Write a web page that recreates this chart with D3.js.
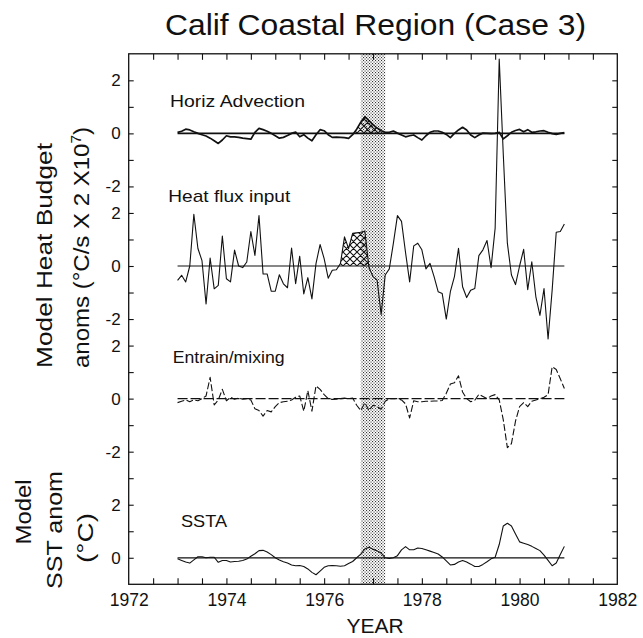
<!DOCTYPE html>
<html>
<head>
<meta charset="utf-8">
<script src="https://cdn.jsdelivr.net/npm/d3@7"></script>
<style>
  body { margin: 0; background: #fff; }
  text { font-family: "Liberation Sans", Arial, Helvetica, sans-serif; fill: #111; }
</style>
</head>
<body>
<svg id="chart" width="643" height="638"></svg>
<script>
// Monthly model anomalies, January 1973 through December 1980
const startYear = 1973;
const horizAdvection = [
  0.04, 0.08, 0.16, 0.13, 0.06, 0.00, -0.05, -0.10, -0.18, -0.28, -0.38, -0.25,
  -0.09, -0.13, -0.13, -0.15, -0.18, -0.20, -0.22, 0.04, 0.19, 0.14, 0.08, 0.00,
  -0.09, -0.18, -0.15, -0.08, 0.00, 0.05, -0.13, -0.05, -0.18, -0.28, -0.05, 0.14,
  0.10, -0.05, -0.15, -0.14, -0.15, -0.16, -0.19, -0.05, 0.16, 0.42, 0.63, 0.48,
  0.33, 0.20, 0.10, 0.04, 0.04, 0.09, 0.01, -0.06, -0.13, -0.09, -0.06, -0.16,
  -0.25, -0.09, 0.04, 0.09, 0.09, 0.04, -0.04, -0.16, 0.00, 0.13, 0.23, 0.13,
  -0.06, -0.16, -0.06, 0.01, 0.00, -0.01, 0.00, 0.04, -0.21, -0.09, 0.04, 0.11,
  0.15, 0.06, 0.14, 0.04, 0.06, 0.09, 0.10, 0.04, -0.01, -0.04, 0.00, 0.03
];
const heatFluxInput = [
  -0.54, -0.35, -0.60, 0.00, 1.95, 0.66, 0.20, -1.43, 0.30, -0.86, -0.73, 1.13,
  -0.48, -0.60, 0.60, 0.00, -0.06, 0.15, 1.30, 0.40, 1.90, -0.30, -0.30, -0.95,
  -0.95, -0.33, -0.67, -0.82, 0.68, -0.67, 0.37, -1.05, -0.44, -1.24, 0.09, 0.81,
  0.28, -0.46, -0.16, -0.14, 0.09, 1.10, 0.66, 1.23, 1.25, 1.27, 1.32, -0.05,
  -0.40, -0.53, -1.83, -0.34, -0.11, 0.85, 1.90, 1.68, 0.50, -0.60, 0.76, 0.86,
  0.61, -0.11, 0.10, -0.40, -0.97, -1.04, -2.00, -0.97, -0.40, 0.67, -0.78, -1.19,
  -0.91, -0.85, 0.39, 0.61, 0.96, -0.06, 1.43, 7.80, 4.20, 0.86, -0.34, -0.70,
  0.00, 0.63, -0.89, 0.16, -1.16, -1.86, -0.85, -2.75, -0.91, 1.27, 1.30, 1.58
];
const entrainMixing = [
  -0.15, -0.10, -0.05, -0.12, -0.05, -0.08, 0.00, 0.10, 0.80, -0.24, -0.05, 0.35,
  -0.08, 0.05, -0.02, 0.02, -0.02, 0.00, -0.05, -0.38, -0.45, -0.66, -0.45, -0.50,
  -0.30, -0.15, -0.12, -0.10, -0.05, 0.05, 0.10, -0.47, 0.30, -0.47, 0.48, 0.35,
  0.15, 0.00, -0.03, -0.02, 0.00, 0.02, 0.00, 0.02, -0.25, -0.45, -0.15, -0.45,
  -0.25, -0.30, -0.40, -0.10, 0.00, 0.00, 0.00, -0.05, -0.20, -0.73, -0.08, -0.12,
  -0.12, -0.10, -0.10, -0.09, -0.09, -0.07, 0.20, 0.55, 0.60, 0.86, 0.25, 0.00,
  -0.12, -0.06, 0.16, 0.08, 0.00, 0.10, 0.15, -0.05, -0.80, -1.85, -1.70, -0.85,
  -0.30, -0.15, -0.30, -0.10, -0.05, 0.00, 0.05, 0.15, 1.20, 1.10, 0.75, 0.38
];
const ssta = [
  -0.04, -0.10, -0.16, -0.20, -0.08, 0.04, 0.04, 0.00, 0.02, 0.02, -0.17, -0.10,
  -0.10, -0.16, -0.14, -0.13, -0.10, -0.05, 0.06, 0.15, 0.27, 0.28, 0.22, 0.12,
  0.00, -0.08, -0.15, -0.20, -0.27, -0.30, -0.29, -0.33, -0.42, -0.55, -0.64, -0.50,
  -0.36, -0.30, -0.29, -0.30, -0.32, -0.30, -0.22, -0.14, 0.00, 0.14, 0.33, 0.40,
  0.32, 0.26, 0.18, 0.00, -0.03, 0.00, 0.08, 0.30, 0.42, 0.30, 0.30, 0.37,
  0.35, 0.30, 0.25, 0.20, 0.14, 0.03, -0.12, -0.27, -0.25, -0.16, -0.10, -0.16,
  -0.24, -0.33, -0.33, -0.25, -0.15, -0.04, 0.02, 0.50, 1.20, 1.30, 1.20, 0.90,
  0.60, 0.55, 0.50, 0.43, 0.35, 0.27, 0.10, -0.10, -0.30, -0.20, 0.12, 0.43
];

const panelNames = ["Horiz Advection", "Heat flux input", "Entrain/mixing", "SSTA"];
const panelOffsets = [0, -5, -10, -16];          // stacked baseline of each panel
const yTickLabelValues = [2, 0, -2];
const xTickLabels = [1972, 1974, 1976, 1978, 1980, 1982];
const warmEventBand = [1976.75, 1977.25];          // stippled period
const hatchSpans = [[1976.58, 1977.25], [1976.33, 1976.92], null, null];

const series = [horizAdvection, heatFluxInput, entrainMixing, ssta];

const svg = d3.select("#chart");
const x = d3.scaleLinear().domain([1972, 1982]).range([128.7, 617.3]);
const y = d3.scaleLinear().domain([-17, 3]).range([584.3, 53.8]);
const [x0, x1] = x.range();
const [yBot, yTop] = y.range();

const defs = svg.append("defs");
defs.append("clipPath").attr("id", "frameClip")
  .append("rect").attr("x", x0).attr("y", yTop).attr("width", x1 - x0).attr("height", yBot - yTop);

// fine stipple for the shaded period
const stip = defs.append("pattern").attr("id", "stipple")
  .attr("patternUnits", "userSpaceOnUse").attr("width", 3).attr("height", 3);
stip.append("rect").attr("x", 0).attr("y", 0).attr("width", 1.1).attr("height", 1.1).attr("fill", "#333");
stip.append("rect").attr("x", 1.5).attr("y", 1.5).attr("width", 1.1).attr("height", 1.1).attr("fill", "#333");

// cross hatch for the highlighted anomalies
const hatch = defs.append("pattern").attr("id", "crosshatch")
  .attr("patternUnits", "userSpaceOnUse").attr("width", 7).attr("height", 7);
hatch.append("path").attr("d", "M0,0L7,7M7,0L0,7M-1,6L1,8M6,-1L8,1M-1,1L1,-1M6,8L8,6")
  .attr("stroke", "#111").attr("stroke-width", 1.1);

// shaded period
svg.append("rect")
  .attr("x", x(warmEventBand[0])).attr("y", yTop)
  .attr("width", x(warmEventBand[1]) - x(warmEventBand[0]))
  .attr("height", yBot - yTop)
  .attr("fill", "url(#stipple)");

const plot = svg.append("g").attr("clip-path", "url(#frameClip)");
const monthYear = i => startYear + i / 12;

series.forEach((vals, p) => {
  const off = panelOffsets[p];
  const pts = vals.map((v, i) => ({ t: monthYear(i), v }));
  const bold = p === 0;
  const dashed = p === 2;

  // hatched area between curve and zero
  if (hatchSpans[p]) {
    const [a, b] = hatchSpans[p];
    const sub = pts.filter(d => d.t >= a - 1e-6 && d.t <= b + 1e-6);
    plot.append("path").datum(sub)
      .attr("fill", "url(#crosshatch)")
      .attr("d", d3.area().x(d => x(d.t)).y0(y(off)).y1(d => y(off + Math.max(d.v, 0))));
  }

  // zero reference line across the data period
  plot.append("line")
    .attr("x1", x(monthYear(0))).attr("x2", x(monthYear(vals.length - 1)))
    .attr("y1", y(off)).attr("y2", y(off))
    .attr("stroke", "#111").attr("stroke-width", bold ? 1.8 : 1.2)
    .attr("stroke-dasharray", dashed ? "10,3" : null);

  plot.append("path").datum(pts)
    .attr("fill", "none").attr("stroke", "#111")
    .attr("stroke-width", bold ? 1.7 : 1.1)
    .attr("stroke-linejoin", "round")
    .attr("stroke-dasharray", dashed ? "7,2.5" : null)
    .attr("d", d3.line().x(d => x(d.t)).y(d => y(off + d.v)));
});

// frame
svg.append("rect").attr("x", x0).attr("y", yTop).attr("width", x1 - x0).attr("height", yBot - yTop)
  .attr("fill", "none").attr("stroke", "#111").attr("stroke-width", 1.3);

// tick label lookup for stacked panels
const yLabelMap = new Map();
panelOffsets.forEach(off => yTickLabelValues.forEach(v => {
  const u = off + v;
  if (u >= -17 && u <= 3) yLabelMap.set(u, String(v));
}));
const yTickValues = d3.range(-16, 3, 1);
const xTickValues = d3.range(1972.5, 1982, 0.5);

const styleAxis = g => { g.select(".domain").remove(); g.selectAll("line").attr("stroke", "#111").attr("stroke-width", 1.1); };

svg.append("g").attr("transform", `translate(0,${yBot})`)
  .call(d3.axisBottom(x).tickValues(xTickValues).tickSize(-6).tickFormat(""))
  .call(styleAxis);
svg.append("g").attr("transform", `translate(0,${yTop})`)
  .call(d3.axisTop(x).tickValues(xTickValues).tickSize(-6).tickFormat(""))
  .call(styleAxis);
svg.append("g").attr("transform", `translate(0,${yBot})`)
  .call(d3.axisBottom(x).tickValues(xTickLabels).tickSize(0).tickPadding(8).tickFormat(d3.format("d")))
  .call(styleAxis)
  .selectAll("text").attr("font-size", 19).attr("textLength", 39).attr("lengthAdjust", "spacingAndGlyphs")
  .attr("font-family", "Liberation Sans, Arial, sans-serif").attr("fill", "#111");

svg.append("g").attr("transform", `translate(${x0},0)`)
  .call(d3.axisLeft(y).tickValues(yTickValues).tickSize(-5).tickPadding(8).tickFormat(u => yLabelMap.get(u) || ""))
  .call(styleAxis)
  .selectAll("text").attr("font-size", 17).attr("font-family", "Liberation Sans, Arial, sans-serif").attr("fill", "#111");
svg.append("g").attr("transform", `translate(${x1},0)`)
  .call(d3.axisRight(y).tickValues(yTickValues).tickSize(-5).tickFormat(""))
  .call(styleAxis);

// panel names
const nameAnchors = [[170, 107.3, 135], [168.3, 201.7, 122], [172.7, 362.7, 112], [181, 526.7, 46]];
panelNames.forEach((n, p) => {
  const [tx, ty, tl] = nameAnchors[p];
  svg.append("text").attr("x", tx).attr("y", ty).attr("font-size", 17)
    .attr("textLength", tl).attr("lengthAdjust", "spacingAndGlyphs").text(n);
});

// title
svg.append("text").attr("x", 165).attr("y", 35).attr("font-size", 29)
  .attr("textLength", 421).attr("lengthAdjust", "spacingAndGlyphs")
  .text("Calif Coastal Region (Case 3)");

// axis titles
svg.append("text").attr("text-anchor", "middle").attr("font-size", 21)
  .attr("x", 375).attr("y", 633).text("YEAR");

const rotTitle = (tx, ty, len) => svg.append("text")
  .attr("transform", `translate(${tx},${ty}) rotate(-90)`)
  .attr("text-anchor", "middle").attr("font-size", 22)
  .attr("textLength", len).attr("lengthAdjust", "spacingAndGlyphs");

rotTitle(52, 255.5, 225).text("Model Heat Budget");
const t2 = rotTitle(89, 247.5, 241);
t2.append("tspan").text("anoms (°C/s X 2 X10");
t2.append("tspan").attr("font-size", 14).attr("dy", -8).text("7");
t2.append("tspan").attr("dy", 8).text(")");

rotTitle(31, 512, 65).text("Model");
rotTitle(62, 530, 118).text("SST anom");
rotTitle(93, 538, 50).text("(°C)");
</script>
</body>
</html>
